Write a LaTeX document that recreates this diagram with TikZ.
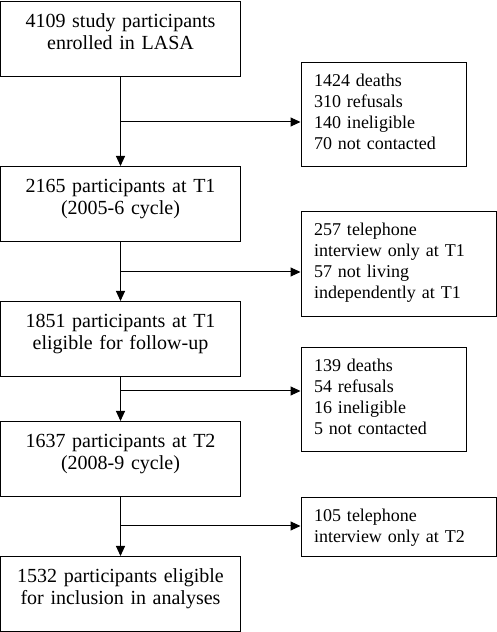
\documentclass[tikz,border=0pt]{standalone}
\usepackage{fontspec}
\setmainfont{Liberation Serif}
\usetikzlibrary{arrows.meta}
\begin{document}
\begin{tikzpicture}[x=1pt,y=1pt,
	stage/.style={draw, line width=1pt, anchor=north, text width=240pt, align=center, inner sep=0pt, text height=26pt, text depth=49pt, font=\fontsize{20}{22}\selectfont},
	loss/.style={draw, line width=1pt, anchor=north west, align=left, inner xsep=13pt, inner ysep=0pt, text height=24pt, font=\fontsize{18}{21}\selectfont},
	flow/.style={line width=1pt, -{Triangle[length=10pt,width=9pt]}}]
	
	\useasboundingbox (0,0) rectangle (497,632);
	
	%Stages
	\node (enrolled) at (120.5,631) [stage]{4109 study participants\\enrolled in LASA};
	\node (waveA) at (120.5,466) [stage]{2165 participants at T1\\(2005-6 cycle)};
	\node (eligibleA) at (120.5,331) [stage]{1851 participants at T1\\eligible for follow-up};
	\node (waveB) at (120.5,211) [stage]{1637 participants at T2\\(2008-9 cycle)};
	\node (analysed) at (120.5,76) [stage]{1532 participants eligible\\for inclusion in analyses};
	
	%Exclusions
	\node (lossA) at (300.5,570) [loss, text width=139pt, text depth=80pt]{1424 deaths\\310 refusals\\140 ineligible\\70 not contacted};
	\node (lossB) at (300.5,421) [loss, text width=169pt, text depth=81pt]{257 telephone\\interview only at T1\\57 not living\\independently at T1};
	\node (lossC) at (300.5,285) [loss, text width=139pt, text depth=80pt]{139 deaths\\54 refusals\\16 ineligible\\5 not contacted};
	\node (lossD) at (300.5,135) [loss, text width=169pt, text depth=35pt]{105 telephone\\interview only at T2};
	
	%Links
	\draw[flow] (enrolled.south) -- (waveA.north);
	\draw[flow] (waveA.south) -- (eligibleA.north);
	\draw[flow] (eligibleA.south) -- (waveB.north);
	\draw[flow] (waveB.south) -- (analysed.north);
	
	%Branches
	\coordinate (splitA) at (enrolled.south |- 0,510);
	\coordinate (splitB) at (waveA.south |- 0,360);
	\coordinate (splitC) at (eligibleA.south |- 0,241);
	\coordinate (splitD) at (waveB.south |- 0,106);
	\draw[flow] (splitA) -- (splitA -| lossA.west);
	\draw[flow] (splitB) -- (splitB -| lossB.west);
	\draw[flow] (splitC) -- (splitC -| lossC.west);
	\draw[flow] (splitD) -- (splitD -| lossD.west);
	
\end{tikzpicture}
\end{document}
